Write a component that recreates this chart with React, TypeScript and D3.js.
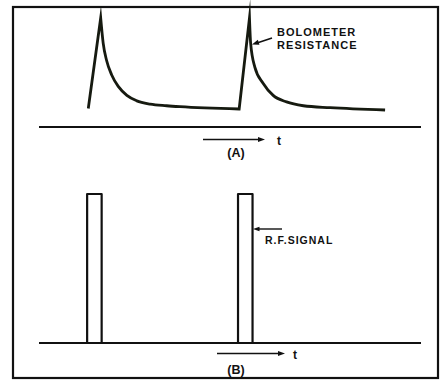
import React from "react";
import * as d3 from "d3";

// time axis units (0..100) and normalized amplitude (0..1)
const riseA1 = [
  { t: 12.9, v: 0.17 },
  { t: 16.15, v: 1.0 },
];
const decayA1 = [
  { t: 16.15, v: 1.0 },
  { t: 16.8, v: 0.77 },
  { t: 17.7, v: 0.61 },
  { t: 19.0, v: 0.48 },
  { t: 20.8, v: 0.37 },
  { t: 23.0, v: 0.29 },
  { t: 25.6, v: 0.24 },
  { t: 29.1, v: 0.21 },
  { t: 33.4, v: 0.195 },
  { t: 36.9, v: 0.186 },
  { t: 52.4, v: 0.165 },
];
const riseA2 = [
  { t: 52.4, v: 0.165 },
  { t: 55.1, v: 1.0 },
];
const decayA2 = [
  { t: 55.1, v: 1.0 },
  { t: 55.4, v: 0.77 },
  { t: 56.5, v: 0.55 },
  { t: 58.7, v: 0.4 },
  { t: 61.3, v: 0.29 },
  { t: 64.8, v: 0.23 },
  { t: 69.2, v: 0.195 },
  { t: 76.2, v: 0.177 },
  { t: 90.6, v: 0.156 },
];
const pulseStarts = [12.6, 52.1];
const pulseWidth = 3.8;
const pulseAmp = 1;

const labelA = "(A)";
const labelB = "(B)";
const labelBolo = ["BOLOMETER", "RESISTANCE"];
const labelRF = "R.F.SIGNAL";
const timeLabel = "t";

const W = 444;
const H = 384;

export default function App() {
  const x = d3.scaleLinear().domain([0, 100]).range([39, 421]);
  const yA = d3.scaleLinear().domain([0, 1]).range([127, 18]);
  const yB = d3.scaleLinear().domain([0, 1]).range([343, 194]);

  const lin = d3
    .line<{ t: number; v: number }>()
    .x((d) => x(d.t))
    .y((d) => yA(d.v))
    .curve(d3.curveLinear);
  const smooth = d3
    .line<{ t: number; v: number }>()
    .x((d) => x(d.t))
    .y((d) => yA(d.v))
    .curve(d3.curveMonotoneX);
  const strip = (s: string) => s.replace(/^M[-\d.,e]+/, "");
  const curveD =
    (lin(riseA1) || "") +
    strip(smooth(decayA1) || "") +
    strip(lin(riseA2) || "") +
    strip(smooth(decayA2) || "");

  const pulseLine = d3
    .line<[number, number]>()
    .x((d) => x(d[0]))
    .y((d) => yB(d[1]));

  const font = "'Liberation Sans', Arial, sans-serif";
  const arrowHead = (
    tipX: number,
    tipY: number,
    angle: number,
    len = 7,
    half = 2.6
  ) => {
    const c = Math.cos(angle);
    const s = Math.sin(angle);
    const bx = tipX - c * len;
    const by = tipY - s * len;
    return `M${tipX},${tipY}L${bx - s * half},${by + c * half}L${bx + s * half},${by - c * half}Z`;
  };

  return (
    <svg
      width={W}
      height={H}
      style={{ position: "absolute", left: 0, top: 0, background: "#fff" }}
    >
      <rect x={13} y={7} width={425} height={371} fill="none" stroke="#111" strokeWidth={2.2} />

      {/* Panel A */}
      <line x1={x(0)} x2={x(100)} y1={yA(0)} y2={yA(0)} stroke="#111" strokeWidth={2.2} />
      <path
        d={curveD}
        fill="none"
        stroke="#161a10"
        strokeWidth={2.8}
        strokeLinejoin="miter"
        strokeMiterlimit={20}
      />
      <line x1={272} y1={38} x2={257} y2={43} stroke="#111" strokeWidth={1.6} />
      <path d={arrowHead(252, 44.5, Math.atan2(44.5 - 38, 252 - 272))} fill="#111" />
      <text x={277} y={36} fontFamily={font} fontWeight={700} fontSize={11} letterSpacing={1} fill="#111">
        {labelBolo[0]}
      </text>
      <text x={277} y={48.6} fontFamily={font} fontWeight={700} fontSize={11} letterSpacing={1.05} fill="#111">
        {labelBolo[1]}
      </text>

      <line x1={203} x2={258} y1={139.5} y2={139.5} stroke="#111" strokeWidth={1.6} />
      <path d={arrowHead(265, 139.5, 0)} fill="#111" />
      <text x={279} y={144.5} fontFamily={font} fontWeight={700} fontSize={12} textAnchor="middle" fill="#111">
        {timeLabel}
      </text>
      <text x={236} y={156.5} fontFamily={font} fontWeight={700} fontSize={12.5} textAnchor="middle" fill="#111">
        {labelA}
      </text>

      {/* Panel B */}
      <line x1={x(0)} x2={x(100)} y1={yB(0)} y2={yB(0)} stroke="#111" strokeWidth={2.2} />
      {pulseStarts.map((s, i) => (
        <path
          key={i}
          d={
            pulseLine([
              [s, 0],
              [s, pulseAmp],
              [s + pulseWidth, pulseAmp],
              [s + pulseWidth, 0],
            ]) || ""
          }
          fill="none"
          stroke="#111"
          strokeWidth={2.2}
          strokeLinejoin="round"
        />
      ))}
      <line x1={259} x2={282} y1={229} y2={229} stroke="#111" strokeWidth={1.4} />
      <path d={arrowHead(253, 229, Math.PI, 6.5, 2.2)} fill="#111" />
      <text x={265} y={243.5} fontFamily={font} fontWeight={700} fontSize={10.5} letterSpacing={1} fill="#111">
        {labelRF}
      </text>

      <line x1={217} x2={278} y1={353.5} y2={353.5} stroke="#111" strokeWidth={1.6} />
      <path d={arrowHead(285, 353.5, 0)} fill="#111" />
      <text x={295} y={358.5} fontFamily={font} fontWeight={700} fontSize={12} textAnchor="middle" fill="#111">
        {timeLabel}
      </text>
      <text x={236} y={374} fontFamily={font} fontWeight={700} fontSize={12.5} textAnchor="middle" fill="#111">
        {labelB}
      </text>
    </svg>
  );
}
